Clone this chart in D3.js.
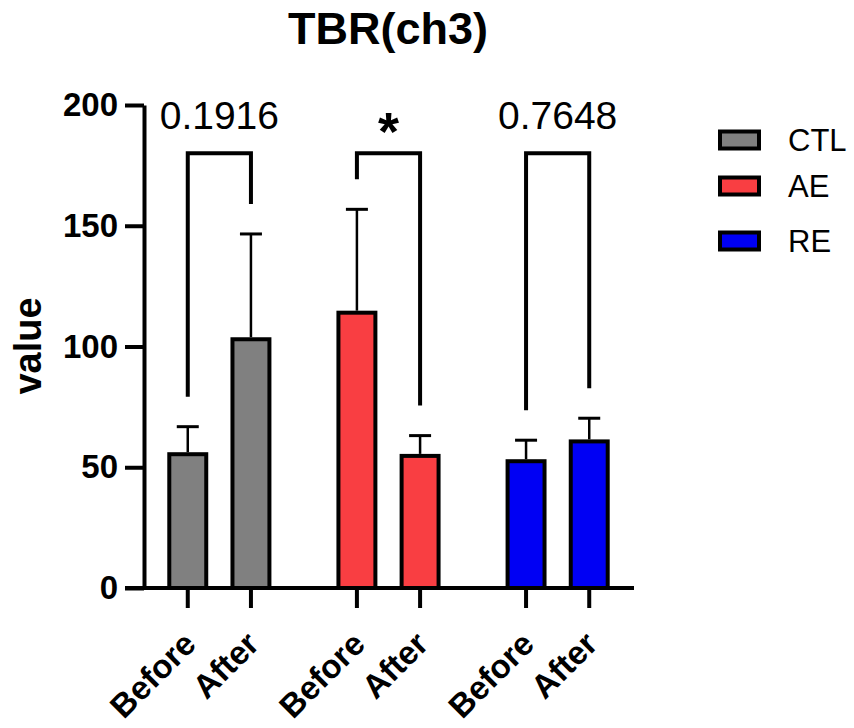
<!DOCTYPE html>
<html>

<head>
    <meta charset="utf-8">
    <script src="https://d3js.org/d3.v7.min.js"></script>
    <style>
        body {
            margin: 0;
            background-color: white;
            font-family: "Liberation Sans", Arial, Helvetica, sans-serif;
        }
    </style>
</head>

<body>
    <div id="chart"></div>
    <script>
        // values (mean and SD per group / time point)
        var groups = ["CTL", "AE", "RE"];
        var phases = ["Before", "After"];
        var ctlMean = [55.4, 103.0];
        var ctlSD = [11.4, 43.6];
        var aeMean = [114.0, 54.7];
        var aeSD = [42.8, 8.4];
        var reMean = [52.5, 60.7];
        var reSD = [8.7, 9.6];
        var pLabels = ["0.1916", "*", "0.7648"];
        var bracketLevel = 180;
        var yTicks = [0, 50, 100, 150, 200];

        var colors = { CTL: "#808080", AE: "#F93E42", RE: "#0000F4" };

        var means = { CTL: ctlMean, AE: aeMean, RE: reMean };
        var sds = { CTL: ctlSD, AE: aeSD, RE: reSD };

        var data = [];
        groups.forEach(function (g) {
            phases.forEach(function (p, i) {
                data.push({ group: g, phase: p, mean: means[g][i], sd: sds[g][i] });
            });
        });

        var width = 854,
            height = 728;

        var svg = d3.select("#chart").append("svg")
            .attr("width", width)
            .attr("height", height)
            .style("background", "white");

        var y = d3.scaleLinear().domain([0, 200]).range([588, 105]);

        var x0 = d3.scaleBand().domain(groups).range([144, 633])
            .paddingInner(0.253).paddingOuter(0.072);
        var x1 = d3.scaleBand().domain(phases).range([0, x0.bandwidth()]);
        var barW = x1.bandwidth() * 0.585;

        function cx(d) { return x0(d.group) + x1(d.phase) + x1.bandwidth() / 2; }

        // title
        svg.append("text")
            .attr("x", 388)
            .attr("y", 44)
            .attr("text-anchor", "middle")
            .style("font-size", "45px")
            .style("font-weight", "bold")
            .text("TBR(ch3)");

        // y axis
        var yAxis = svg.append("g")
            .attr("transform", "translate(144,0)")
            .call(d3.axisLeft(y).tickValues(yTicks).tickSize(19).tickSizeOuter(0).tickPadding(7));
        yAxis.select(".domain").attr("stroke-width", 4);
        yAxis.selectAll(".tick line").attr("stroke-width", 4);
        yAxis.selectAll(".tick text")
            .style("font-size", "33px")
            .style("font-weight", "bold")
            .style("font-family", "'Liberation Sans', Arial, sans-serif")
            .attr("fill", "black");

        svg.append("text")
            .attr("transform", "translate(41,346) rotate(-90)")
            .attr("text-anchor", "middle")
            .style("font-size", "38px")
            .style("font-weight", "bold")
            .text("value");

        // bars
        svg.selectAll("rect.bar").data(data).enter()
            .append("rect")
            .attr("class", "bar")
            .attr("x", function (d) { return cx(d) - barW / 2; })
            .attr("y", function (d) { return y(d.mean); })
            .attr("width", barW)
            .attr("height", function (d) { return y(0) - y(d.mean); })
            .attr("fill", function (d) { return colors[d.group]; })
            .attr("stroke", "black")
            .attr("stroke-width", 4);

        // error bars (upper only)
        var err = svg.selectAll("g.err").data(data).enter().append("g").attr("class", "err");
        err.append("line")
            .attr("x1", cx).attr("x2", cx)
            .attr("y1", function (d) { return y(d.mean) - 2; })
            .attr("y2", function (d) { return y(d.mean + d.sd); })
            .attr("stroke", "black").attr("stroke-width", 2.5);
        err.append("line")
            .attr("x1", function (d) { return cx(d) - 11; })
            .attr("x2", function (d) { return cx(d) + 11; })
            .attr("y1", function (d) { return y(d.mean + d.sd); })
            .attr("y2", function (d) { return y(d.mean + d.sd); })
            .attr("stroke", "black").attr("stroke-width", 3);

        // x axis
        svg.append("line")
            .attr("x1", 125).attr("x2", 634)
            .attr("y1", y(0)).attr("y2", y(0))
            .attr("stroke", "black").attr("stroke-width", 4);
        svg.selectAll("line.xtick").data(data).enter()
            .append("line")
            .attr("class", "xtick")
            .attr("x1", cx).attr("x2", cx)
            .attr("y1", y(0)).attr("y2", y(0) + 20)
            .attr("stroke", "black").attr("stroke-width", 4);
        svg.selectAll("text.xlab").data(data).enter()
            .append("text")
            .attr("class", "xlab")
            .attr("transform", function (d) {
                return "translate(" + (cx(d) + 10) + ",646) rotate(-45)";
            })
            .attr("text-anchor", "end")
            .style("font-size", "33px")
            .style("font-weight", "bold")
            .text(function (d) { return d.phase; });

        // significance brackets
        groups.forEach(function (g, i) {
            var a = data[i * 2], b = data[i * 2 + 1];
            var yb = y(bracketLevel);
            svg.append("path")
                .attr("d", "M" + cx(a) + "," + (y(a.mean + a.sd) - 30) +
                    "V" + yb + "H" + cx(b) + "V" + (y(b.mean + b.sd) - 30))
                .attr("fill", "none")
                .attr("stroke", "black")
                .attr("stroke-width", 4);
            var mid = (cx(a) + cx(b)) / 2;
            if (pLabels[i] === "*") {
                svg.append("text")
                    .attr("x", mid).attr("y", 150)
                    .attr("text-anchor", "middle")
                    .style("font-size", "54px")
                    .style("font-weight", "bold")
                    .text(pLabels[i]);
            } else {
                svg.append("text")
                    .attr("x", mid).attr("y", 129)
                    .attr("text-anchor", "middle")
                    .style("font-size", "39px")
                    .text(pLabels[i]);
            }
        });

        // legend
        var legendY = [140, 186, 241];
        var legend = svg.selectAll("g.legend").data(groups).enter()
            .append("g")
            .attr("class", "legend")
            .attr("transform", function (d, i) { return "translate(720," + legendY[i] + ")"; });
        legend.append("rect")
            .attr("x", 0).attr("y", -8.5)
            .attr("width", 39).attr("height", 17)
            .attr("fill", function (d) { return colors[d]; })
            .attr("stroke", "black").attr("stroke-width", 4);
        legend.append("text")
            .attr("x", 68).attr("y", 11)
            .style("font-size", "31px")
            .text(function (d) { return d; });
    </script>
</body>

</html>
